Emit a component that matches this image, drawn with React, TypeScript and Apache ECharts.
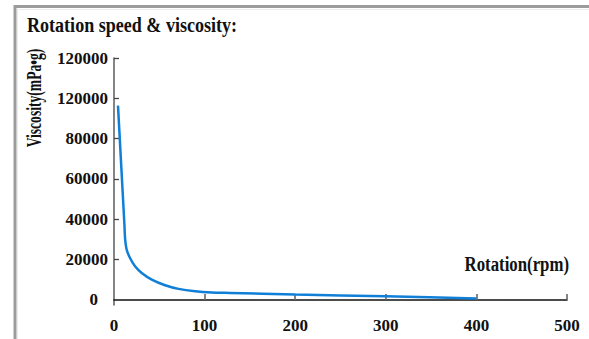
import React, { useEffect, useRef } from "react";
import * as echarts from "echarts";

const rotationRpm = [4.4, 11.5, 12.2, 14.0, 17.7, 23.2, 30.6, 41.7, 56.4, 71.2, 89.5, 108, 128, 200, 300, 400];
const viscosity = [96400, 37300, 30700, 24900, 20800, 16700, 13400, 10100, 7300, 5500, 4300, 3700, 3500, 2670, 1830, 700];
const yTickValues = [0, 20000, 40000, 60000, 80000, 100000, 120000];
const yTickLabels = ["0", "20000", "40000", "60000", "80000", "120000", "120000"];
const xTickValues = [0, 100, 200, 300, 400, 500];
const titleText = "Rotation speed & viscosity:";
const yAxisTitle = "Viscosity(mPa\u2022g)";
const xAxisTitle = "Rotation(rpm)";

const FONT = "'Liberation Serif', 'Times New Roman', serif";

export default function App() {
  const ref = useRef<HTMLDivElement>(null);
  useEffect(() => {
    document.body.style.margin = "0";
    const chart = echarts.init(ref.current!, null, { renderer: "svg" });
    const data = rotationRpm.map((r, i) => [r, viscosity[i]]);
    chart.setOption({
      animation: false,
      backgroundColor: "#ffffff",
      grid: { left: 114, right: 22, top: 58, bottom: 34 },
      xAxis: {
        type: "value",
        min: 0,
        max: 500,
        interval: 100,
        axisLine: { show: true, lineStyle: { color: "#111", width: 1.6 } },
        axisTick: {
          show: true,
          inside: true,
          length: 6,
          customValues: xTickValues.slice(1),
          lineStyle: { color: "#666", width: 1.6 },
        },
        axisLabel: {
          margin: 12,
          fontFamily: FONT,
          fontSize: 17,
          fontWeight: "bold",
          color: "#111",
          customValues: xTickValues,
        },
        splitLine: { show: false },
      },
      yAxis: {
        type: "value",
        min: -2500,
        max: 120000,
        axisLine: { show: true, lineStyle: { color: "#666", width: 1.6 } },
        axisTick: {
          show: true,
          inside: true,
          length: 5,
          customValues: yTickValues.slice(1),
          lineStyle: { color: "#444", width: 1.3 },
        },
        axisLabel: {
          margin: 6,
          fontFamily: FONT,
          fontSize: 17,
          fontWeight: "bold",
          color: "#111",
          customValues: yTickValues,
          formatter: (v: number) => {
            const idx = yTickValues.indexOf(v);
            const lab = idx >= 0 ? yTickLabels[idx] : "";
            return v === 0 ? "{z|" + lab + "}" : lab;
          },
          rich: {
            z: {
              fontFamily: FONT,
              fontSize: 17,
              fontWeight: "bold",
              color: "#111",
              padding: [0, 10, 0, 0],
            },
          },
        },
        splitLine: { show: false },
      },
      series: [
        {
          type: "line",
          data,
          showSymbol: false,
          smooth: 0.2,
          lineStyle: { color: "#0f7fd8", width: 2.5 },
        },
      ],
      graphic: [
        {
          type: "polyline",
          shape: { points: [[15, 339], [15, 6.5], [589, 6.5]] },
          style: { stroke: "#9c9c9c", lineWidth: 3, fill: null },
        },
        {
          type: "polyline",
          shape: { points: [[17.5, 339], [17.5, 9.5], [589, 9.5]] },
          style: { stroke: "#ececec", lineWidth: 1, fill: null },
        },
        {
          type: "text",
          x: 27,
          y: 25,
          scaleX: 0.86,
          style: {
            text: titleText,
            fontFamily: FONT,
            fontSize: 21,
            fontWeight: "bold",
            fill: "#111",
            align: "left",
            verticalAlign: "middle",
          },
        },
        {
          type: "text",
          x: 35,
          y: 98,
          rotation: Math.PI / 2,
          scaleX: 0.68,
          style: {
            text: yAxisTitle,
            fontFamily: FONT,
            fontSize: 20,
            fontWeight: "bold",
            fill: "#111",
            align: "center",
            verticalAlign: "middle",
          },
        },
        {
          type: "text",
          x: 569,
          y: 264,
          scaleX: 0.8,
          style: {
            text: xAxisTitle,
            fontFamily: FONT,
            fontSize: 21,
            fontWeight: "bold",
            fill: "#111",
            align: "right",
            verticalAlign: "middle",
          },
        },
      ],
    });
    return () => chart.dispose();
  }, []);
  return (
    <div
      ref={ref}
      style={{ position: "absolute", left: 0, top: 0, width: 589, height: 339 }}
    />
  );
}
